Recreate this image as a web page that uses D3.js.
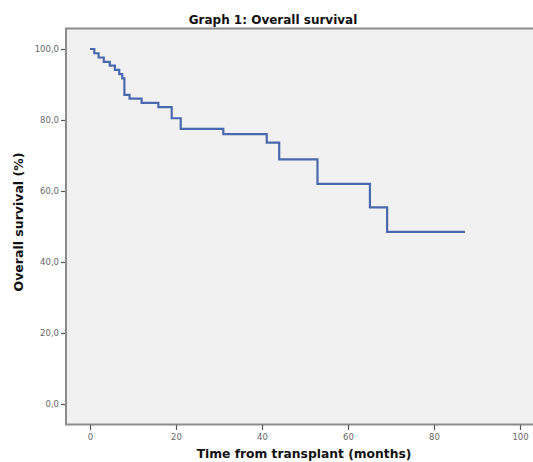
<!DOCTYPE html>
<html>
<head>
<meta charset="utf-8">
<script src="https://cdn.jsdelivr.net/npm/d3@7"></script>
<style>
  html, body { margin: 0; padding: 0; background: #ffffff; }
  svg { display: block; }
</style>
</head>
<body>
<script>
// Kaplan-Meier step data
const times    = [0, 1.0, 2.0, 3.2, 4.6, 5.8, 6.8, 7.5, 8.0, 9.2, 12.0, 15.9, 19.0, 21.1, 31.0, 41.1, 44.0, 52.9, 65.1, 69.1, 87.2];
const survival = [100, 98.8, 97.6, 96.4, 95.3, 94.1, 92.9, 91.7, 87.1, 86.0, 84.8, 83.6, 80.5, 77.5, 76.0, 73.6, 68.9, 62.0, 55.4, 48.5, 48.5];
const xTicks = [0, 20, 40, 60, 80, 100];
const yTicks = [0, 20, 40, 60, 80, 100];
const title = "Graph 1: Overall survival";
const xTitle = "Time from transplant (months)";
const yTitle = "Overall survival (%)";

const W = 533, H = 462;
const svg = d3.select("body").append("svg").attr("width", W).attr("height", H);
svg.append("rect").attr("width", W).attr("height", H).attr("fill", "#ffffff");

const frame = {left: 66, top: 28.5, right: 545, bottom: 424.5};
const x = d3.scaleLinear().domain([0, 100]).range([90, 520]);
const y = d3.scaleLinear().domain([0, 100]).range([404, 49]);

// plot background & frame
svg.append("rect")
  .attr("x", frame.left).attr("y", frame.top)
  .attr("width", frame.right - frame.left).attr("height", frame.bottom - frame.top)
  .attr("fill", "#f1f1f1").attr("stroke", "#8c8c8c").attr("stroke-width", 2);

const font = "'DejaVu Sans', Verdana, sans-serif";

// y axis
const yAxis = d3.axisLeft(y).tickValues(yTicks).tickSize(4).tickPadding(2)
  .tickFormat(d => d3.format(".1f")(d).replace(".", ","));
const gy = svg.append("g").attr("transform", `translate(${frame.left - 1},0)`).call(yAxis);
gy.select(".domain").remove();
gy.selectAll(".tick line").attr("stroke", "#555").attr("stroke-width", 1.2);
gy.selectAll(".tick text").attr("fill", "#666").style("font-family", font).style("font-size", "8.5px");

// x axis
const xAxis = d3.axisBottom(x).tickValues(xTicks).tickSize(5).tickPadding(4).tickFormat(d3.format("d"));
const gx = svg.append("g").attr("transform", `translate(0,${frame.bottom + 0.5})`).call(xAxis);
gx.select(".domain").remove();
gx.selectAll(".tick line").attr("stroke", "#555").attr("stroke-width", 1.2);
gx.selectAll(".tick text").attr("fill", "#666").style("font-family", font).style("font-size", "8.5px");

// survival curve
const data = times.map((t, i) => ({t, s: survival[i]}));
const line = d3.line().x(d => x(d.t)).y(d => y(d.s)).curve(d3.curveStepAfter);
svg.append("path").datum(data).attr("d", line)
  .attr("fill", "none").attr("stroke", "#4a68ad").attr("stroke-width", 2.2)
  .attr("stroke-linejoin", "miter");

// titles
svg.append("text").attr("x", 273).attr("y", 24).attr("text-anchor", "middle")
  .style("font-family", font).style("font-size", "12px").style("font-weight", "bold")
  .attr("fill", "#111").text(title);
svg.append("text").attr("x", 304).attr("y", 458).attr("text-anchor", "middle")
  .style("font-family", font).style("font-size", "12.3px").style("font-weight", "bold")
  .attr("fill", "#111").text(xTitle);
svg.append("text").attr("transform", "translate(23,222) rotate(-90)").attr("text-anchor", "middle")
  .style("font-family", font).style("font-size", "12.5px").style("font-weight", "bold")
  .attr("fill", "#111").text(yTitle);
</script>
</body>
</html>
